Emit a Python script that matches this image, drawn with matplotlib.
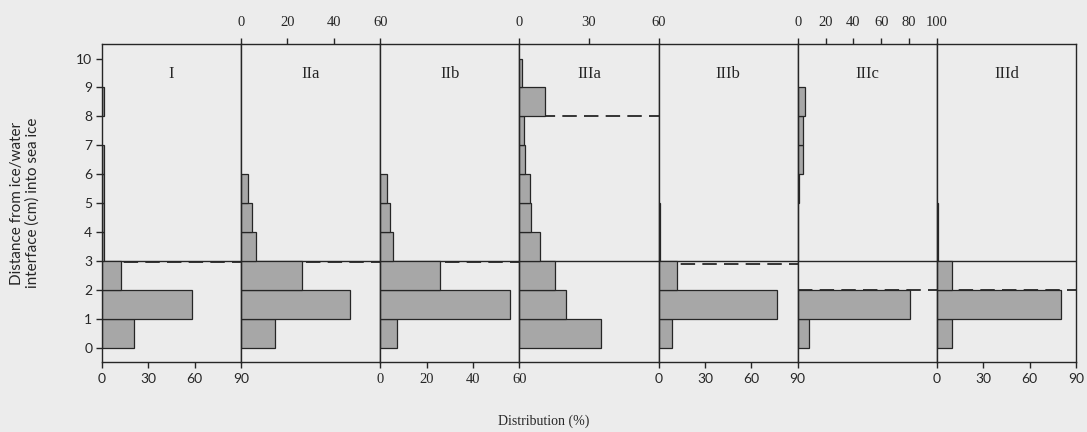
import matplotlib
matplotlib.use("Agg")
import matplotlib.pyplot as plt
import numpy as np

# Depth bins (lower edge, cm above the ice/water interface)
depth_bins = [0, 1, 2, 3, 4, 5, 6, 7, 8, 9]

panel_names = ["I", "IIa", "IIb", "IIIa", "IIIb", "IIIc", "IIId"]

dist_I    = [21, 58, 12.5, 1, 1, 1, 1, 0, 1, 0]
dist_IIa  = [14.6, 47, 26.3, 6.5, 4.5, 3, 0, 0, 0, 0]
dist_IIb  = [7.3, 56, 25.8, 5.5, 4, 3, 0, 0, 0, 0]
dist_IIIa = [35, 20, 15.3, 9, 4.8, 4.5, 2.5, 2, 11, 1]
dist_IIIb = [9, 76.5, 12, 1, 1, 0, 0, 0, 0, 0]
dist_IIIc = [8.2, 81, 0, 0.5, 0.5, 1, 4, 4, 5, 0]
dist_IIId = [9.6, 80, 9.6, 1, 1, 0, 0, 0, 0, 0]

# Upper limit and tick values of each panel's distribution axis
x_max   = [90, 60, 60, 60, 90, 100, 90]
x_ticks = [[0, 30, 60, 90], [0, 20, 40, 60], [0, 20, 40, 60], [0, 30, 60],
           [0, 30, 60, 90], [0, 20, 40, 60, 80, 100], [0, 30, 60, 90]]
tick_side = ["bottom", "top", "bottom", "top", "bottom", "top", "bottom"]

# Interface levels (cm): solid common level and dashed group levels
common_level = 3.0
group_level = [2.95, 2.95, 2.95, 8.0, 2.9, 2.0, 2.0]

series = [dist_I, dist_IIa, dist_IIb, dist_IIIa, dist_IIIb, dist_IIIc, dist_IIId]

bg = "#ececec"
bar_fill = "#a7a7a7"
ink = "#262626"
serif = ["Liberation Serif", "DejaVu Serif"]
sans = ["Lato", "DejaVu Sans"]

fig = plt.figure(figsize=(10.87, 4.32), dpi=100, facecolor=bg)
gs = fig.add_gridspec(1, 7, left=0.0938, right=0.9899, bottom=0.162,
                      top=0.898, wspace=0)

for i, (name, vals) in enumerate(zip(panel_names, series)):
    ax = fig.add_subplot(gs[0, i])
    ax.set_facecolor(bg)
    ax.set_xlim(0, x_max[i])
    ax.set_ylim(-0.5, 10.5)

    ax.axhline(common_level, color=ink, lw=1.0, zorder=1)
    ax.axhline(group_level[i], color=ink, lw=1.3, ls=(0, (8, 4)), zorder=1)

    w = np.array(vals, dtype=float)
    keep = w > 0
    ax.barh(np.array(depth_bins)[keep], w[keep], height=1.0, align="edge",
            left=0, color=bar_fill, edgecolor=ink, linewidth=0.9, zorder=2)

    ax.text(0.5, 9.45, name, transform=ax.get_yaxis_transform(),
            ha="center", va="center", fontsize=12, family=serif, color=ink)

    for s in ax.spines.values():
        s.set_color(ink)
        s.set_linewidth(1.0)

    side = tick_side[i]
    ax.set_xticks(x_ticks[i])
    ax.set_xticklabels([str(t) for t in x_ticks[i]])
    if side == "top":
        ax.xaxis.tick_top()
    else:
        ax.xaxis.tick_bottom()
    use_serif = side == "top" or i == 2
    ax.tick_params(axis="x", direction="out", length=4, width=1,
                   color=ink, labelcolor=ink,
                   labelsize=10.5 if use_serif else 10,
                   pad=7 if side == "top" else 4)
    for lbl in ax.get_xticklabels():
        lbl.set_family(serif if use_serif else sans)

    if i == 0:
        ax.set_yticks(range(0, 11))
        ax.tick_params(axis="y", direction="out", length=4, width=1,
                       color=ink, labelcolor=ink, labelsize=10, pad=3)
        for lbl in ax.get_yticklabels():
            lbl.set_family(sans)
    else:
        ax.set_yticks([])

fig.text(0.5, 0.025, "Distribution (%)", ha="center", va="center",
         fontsize=10, family=serif, color=ink)
fig.text(0.023, 0.53, "Distance from ice/water\ninterface (cm) into sea ice",
         rotation=90, ha="center", va="center", fontsize=11, family=sans,
         color=ink, linespacing=1.1)

fig.savefig("out.png", dpi=100, facecolor=bg)
